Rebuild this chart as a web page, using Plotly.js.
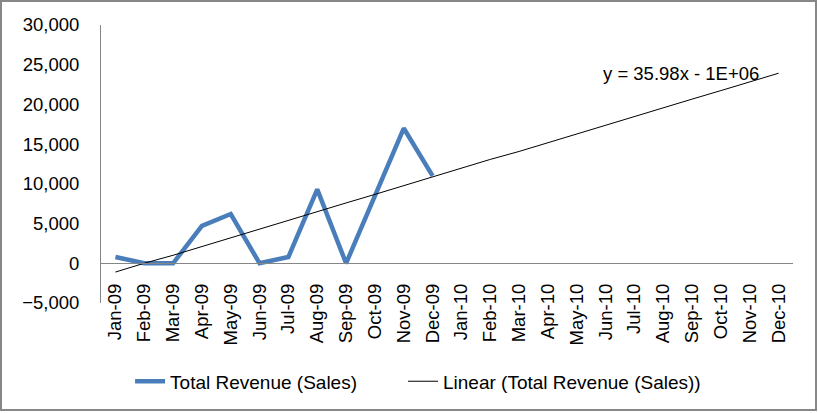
<!DOCTYPE html>
<html>
<head>
<meta charset="utf-8">
<script src="https://cdn.plot.ly/plotly-3.0.1.min.js"></script>
<style>
html,body{margin:0;padding:0;background:#fff;}
#wrap{position:relative;width:818px;height:413px;}
#chart{width:818px;height:413px;}
#frame{position:absolute;left:0;top:0;width:817px;height:411px;box-sizing:border-box;border:2px solid #878787;pointer-events:none;}
</style>
</head>
<body>
<div id="wrap"><div id="chart"></div><div id="frame"></div></div>
<script>
// Category labels (months)
var months = ["Jan-09","Feb-09","Mar-09","Apr-09","May-09","Jun-09","Jul-09","Aug-09","Sep-09","Oct-09","Nov-09","Dec-09",
              "Jan-10","Feb-10","Mar-10","Apr-10","May-10","Jun-10","Jul-10","Aug-10","Sep-10","Oct-10","Nov-10","Dec-10"];
// Month start dates (for the date-based linear trend, as in Excel)
var monthDates = ["2009-01-01","2009-02-01","2009-03-01","2009-04-01","2009-05-01","2009-06-01","2009-07-01","2009-08-01","2009-09-01","2009-10-01","2009-11-01","2009-12-01",
                  "2010-01-01","2010-02-01","2010-03-01","2010-04-01","2010-05-01","2010-06-01","2010-07-01","2010-08-01","2010-09-01","2010-10-01","2010-11-01","2010-12-01"];
// Total Revenue (Sales), Jan-09 .. Dec-09
var revenue = [800, 0, 0, 4700, 6200, 0, 800, 9300, 0, 8500, 17000, 11000];
var trendLabel = "y = 35.98x - 1E+06";
var yTicks = [-5000, 0, 5000, 10000, 15000, 20000, 25000, 30000];

// least-squares linear trend over the revenue points (x = day number)
function dayNum(s){ return Date.parse(s)/86400000; }
var xs = revenue.map(function(_,i){ return dayNum(monthDates[i]); });
var n = revenue.length, mx = 0, my = 0;
for (var i=0;i<n;i++){ mx += xs[i]; my += revenue[i]; }
mx /= n; my /= n;
var sxy = 0, sxx = 0;
for (var i=0;i<n;i++){ sxy += (xs[i]-mx)*(revenue[i]-my); sxx += (xs[i]-mx)*(xs[i]-mx); }
var slope = sxy/sxx, icpt = my - slope*mx;
var trend = monthDates.map(function(d){ return icpt + slope*dayNum(d); });

var FONT = "Liberation Sans, Arial, sans-serif";
var fs = 18.5;

var traces = [
  {x: months.slice(0, revenue.length), y: revenue, type: "scatter", mode: "lines",
   name: "Total Revenue (Sales)", line: {color: "#4A7EBB", width: 4.5}, legend: "legend"},
  {x: months, y: trend, type: "scatter", mode: "lines",
   name: "Linear (Total Revenue (Sales))", line: {color: "#000000", width: 1}, legend: "legend2"}
];

var legFont = {family: FONT, size: 19, color: "#000"};
var layout = {
  width: 818, height: 413,
  margin: {l: 101, r: 25, t: 24.5, b: 110, pad: 0},
  paper_bgcolor: "#ffffff", plot_bgcolor: "#ffffff",
  font: {family: FONT, size: fs, color: "#000"},
  showlegend: true,
  xaxis: {
    type: "category", categoryorder: "array", categoryarray: months,
    range: [-0.5, months.length - 0.5],
    anchor: "free", position: 5000/35000,
    showline: true, linecolor: "#868686", linewidth: 1,
    showgrid: false, zeroline: false, ticks: "",
    tickangle: -90, ticklabelstandoff: 12,
    tickfont: {family: FONT, size: fs, color: "#000"},
    fixedrange: true
  },
  yaxis: {
    range: [-5000, 30000], tickvals: yTicks, tickformat: ",d",
    showline: true, linecolor: "#868686", linewidth: 1,
    showgrid: false, zeroline: false, ticks: "",
    ticklabelstandoff: 17,
    tickfont: {family: FONT, size: fs, color: "#000"},
    fixedrange: true
  },
  legend: {
    orientation: "h", x: 0.042, xanchor: "left", y: -0.282, yanchor: "middle",
    font: legFont, bgcolor: "rgba(0,0,0,0)"
  },
  legend2: {
    orientation: "h", x: 0.4364, xanchor: "left", y: -0.282, yanchor: "middle",
    font: legFont, bgcolor: "rgba(0,0,0,0)"
  },
  annotations: [{
    x: 19.6, y: 23900, xref: "x", yref: "y", text: trendLabel, showarrow: false,
    xanchor: "center", yanchor: "middle",
    font: {family: FONT, size: fs, color: "#000"}
  }]
};

Plotly.newPlot("chart", traces, layout, {displayModeBar: false, staticPlot: true});
</script>
</body>
</html>
